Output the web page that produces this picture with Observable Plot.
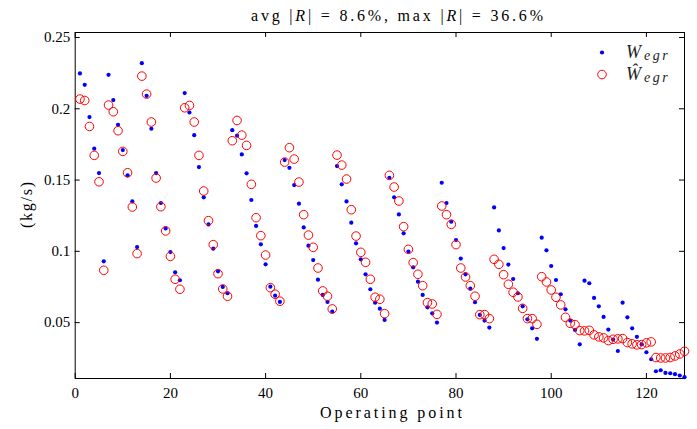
<!DOCTYPE html>
<html><head><meta charset="utf-8">
<script src="https://cdn.jsdelivr.net/npm/d3@7"></script>
<script src="https://cdn.jsdelivr.net/npm/@observablehq/plot@0.6"></script>
<style>body{margin:0;background:#fff} svg{display:block}</style>
</head><body><div id="chart"></div>
<script>
// Measured W_egr (blue dots), operating points 1..128
const wegr = [
0.2248,0.2168,0.1942,0.1720,0.1549,0.0930,0.2238,0.2061,0.1888,0.1710,
0.1533,0.1350,0.1030,0.2320,0.2091,0.1860,0.1549,0.1339,0.1161,0.0995,
0.0853,0.0797,0.2110,0.1974,0.1815,0.1591,0.1379,0.1189,0.1019,0.0860,
0.0750,0.0706,0.1850,0.1811,0.1680,0.1547,0.1360,0.1178,0.1049,0.0909,
0.0752,0.0689,0.0645,0.1640,0.1586,0.1465,0.1334,0.1168,0.1040,0.0939,
0.0801,0.0694,0.0645,0.0577,0.1598,0.1470,0.1350,0.1201,0.1056,0.0944,
0.0839,0.0734,0.0640,0.0598,0.0519,0.1516,0.1379,0.1259,0.1126,0.0998,
0.0888,0.0787,0.0694,0.0607,0.0565,0.0500,0.1481,0.1339,0.1208,0.1079,
0.0949,0.0839,0.0738,0.0643,0.0554,0.0514,0.0465,0.1308,0.1147,0.1023,
0.0907,0.0806,0.0706,0.0614,0.0523,0.0460,0.0386,0.1096,0.1007,0.0897,
0.0799,0.0699,0.0593,0.0514,0.0449,0.0348,0.0794,0.0776,0.0673,0.0614,
0.0540,0.0451,0.0381,0.0301,0.0640,0.0537,0.0460,0.0400,0.0348,0.0292,
0.0243,0.0159,0.0166,0.0147,0.0145,0.0138,0.0129,0.0117];
// Estimated W_egr hat (red circles)
const wegrHat = [
0.2068,0.2058,0.1876,0.1673,0.1488,0.0867,0.2026,0.1979,0.1846,0.1701,
0.1551,0.1311,0.0984,0.2229,0.2103,0.1907,0.1514,0.1313,0.1143,0.0965,
0.0804,0.0734,0.2007,0.2023,0.1907,0.1673,0.1423,0.1215,0.1047,0.0843,
0.0736,0.0685,0.1776,0.1918,0.1815,0.1743,0.1470,0.1236,0.1110,0.0974,
0.0745,0.0699,0.0650,0.1626,0.1727,0.1647,0.1486,0.1257,0.1114,0.1028,
0.0883,0.0722,0.0685,0.0596,0.1675,0.1605,0.1507,0.1292,0.1107,0.0993,
0.0923,0.0804,0.0678,0.0664,0.0563,0.1533,0.1451,0.1353,0.1173,0.1014,
0.0921,0.0839,0.0759,0.0640,0.0631,0.0558,0.1318,0.1257,0.1189,0.1047,
0.0883,0.0820,0.0759,0.0685,0.0556,0.0556,0.0528,0.0944,0.0909,0.0836,
0.0769,0.0713,0.0680,0.0600,0.0528,0.0528,0.0488,0.0822,0.0785,0.0729,
0.0678,0.0624,0.0537,0.0495,0.0486,0.0444,0.0442,0.0446,0.0414,0.0400,
0.0393,0.0374,0.0383,0.0386,0.0388,0.0360,0.0351,0.0344,0.0346,0.0358,
0.0365,0.0255,0.0252,0.0252,0.0255,0.0266,0.0280,0.0299];
const xTicks = [0,20,40,60,80,100,120];
const xTickLabels = ["0","20","40","60","80","100","120"];
const yTicks = [0.05,0.1,0.15,0.2,0.25];
const yTickLabels = ["0.05","0.1","0.15","0.2","0.25"];
const xLabel = "Operating point";
const yLabel = "(kg/s)";

const data = wegr.map((w, i) => ({op: i + 1, w, wh: wegrHat[i]}));

const W = 697, H = 429;
const mL = 74.7, mR = 13, mT = 32, mB = 51;
const xDomain = [0, 128], yDomain = [0.0108, 0.2535];
const pxX = (W - mL - mR) / (xDomain[1] - xDomain[0]);
const pxY = (H - mT - mB) / (yDomain[1] - yDomain[0]);
const tl = 5; // tick length px
const font = "'Liberation Serif', 'Times New Roman', serif";

const plot = Plot.plot({
  width: W, height: H,
  marginLeft: mL, marginRight: mR, marginTop: mT, marginBottom: mB,
  style: {fontFamily: font, fontSize: "15px", background: "white", color: "black"},
  x: {domain: xDomain},
  y: {domain: yDomain},
  marks: [
    Plot.axisX(xTicks, {anchor: "bottom", tickSize: 0, tickPadding: 9, label: null,
      tickFormat: d => xTickLabels[xTicks.indexOf(d)], fontSize: 15}),
    Plot.axisY(yTicks, {anchor: "left", tickSize: 0, tickPadding: 5, label: null,
      tickFormat: d => yTickLabels[yTicks.indexOf(d)], fontSize: 15}),
    Plot.ruleX(xTicks, {x: d => d, y1: yDomain[0], y2: yDomain[0] + tl / pxY, stroke: "black"}),
    Plot.ruleX(xTicks, {x: d => d, y1: yDomain[1], y2: yDomain[1] - tl / pxY, stroke: "black"}),
    Plot.ruleY(yTicks, {y: d => d, x1: xDomain[0], x2: xDomain[0] + tl / pxX, stroke: "black"}),
    Plot.ruleY(yTicks, {y: d => d, x1: xDomain[1], x2: xDomain[1] - tl / pxX, stroke: "black"}),
    Plot.frame({stroke: "black", strokeWidth: 1}),
    Plot.dot(data, {x: "op", y: "w", r: 2.1, fill: "#0000ff", stroke: "none"}),
    Plot.dot(data, {x: "op", y: "wh", r: 4.3, fill: "none", stroke: "#ff0000", strokeWidth: 1})
  ]
});
document.getElementById("chart").appendChild(plot);

const svg = d3.select(plot);
const txt = (x, y, size) => svg.append("text").attr("x", x).attr("y", y)
  .style("font-family", font).style("font-size", size + "px").attr("fill", "black");

// Title
const t = txt(397, 21, 16).attr("text-anchor", "middle")
  .attr("textLength", 292).attr("lengthAdjust", "spacing");
t.append("tspan").text("avg |");
t.append("tspan").style("font-style", "italic").text("R");
t.append("tspan").text("| = 8.6%, max |");
t.append("tspan").style("font-style", "italic").text("R");
t.append("tspan").text("| = 36.6%");

// X label
txt(391, 418, 16).attr("text-anchor", "middle")
  .attr("textLength", 142).attr("lengthAdjust", "spacing").text(xLabel);
// Y label
svg.append("text").attr("transform", "translate(32,205) rotate(-90)").attr("text-anchor", "middle")
  .style("font-family", font).style("font-size", "16px").attr("fill", "black")
  .attr("textLength", 46).attr("lengthAdjust", "spacing").text(yLabel);

// Legend
const lg = svg.append("g").attr("text-anchor", "start");
lg.append("circle").attr("cx", 602).attr("cy", 52.5).attr("r", 2.1).attr("fill", "#0000ff");
lg.append("circle").attr("cx", 602).attr("cy", 74.5).attr("r", 4.3).attr("fill", "none").attr("stroke", "#ff0000");
function legendLabel(y, sym) {
  const l = lg.append("text").attr("x", 626).attr("y", y).attr("text-anchor", "start")
    .style("font-family", font).style("font-style", "italic").style("font-size", "18px").attr("fill", "#222");
  l.append("tspan").text(sym);
  l.append("tspan").style("font-size", "14px").attr("dx", 3).attr("dy", 1.5)
    .style("letter-spacing", "2.5px").text("egr");
}
legendLabel(58, "W");
legendLabel(80, "Ŵ");
</script>
</body></html>
